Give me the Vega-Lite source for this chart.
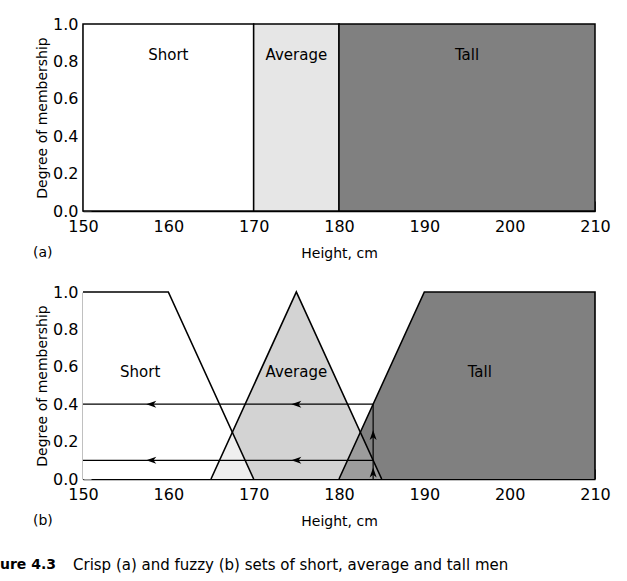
{
  "$schema": "https://vega.github.io/schema/vega-lite/v6.json",
  "background": "white",
  "padding": {"left": 0, "top": 16, "right": 20, "bottom": 5},
  "autosize": {"type": "pad"},
  "config": {
    "font": "DejaVu Sans",
    "view": {"stroke": null},
    "axisX": {
      "values": [150, 155, 160, 165, 170, 175, 180, 185, 190, 195, 200, 205, 210],
      "labelExpr": "datum.value % 10 === 0 ? datum.label : ''",
      "labelFlush": false,
      "tickSize": -10,
      "tickColor": "#444444",
      "domainColor": "black",
      "domainWidth": 1.5,
      "labelFontSize": 16,
      "labelColor": "black",
      "labelPadding": 17,
      "titleFontSize": 14,
      "titleFontWeight": "normal",
      "titleColor": "black",
      "titlePadding": 12,
      "grid": false,
      "zindex": 1
    },
    "axisY": {
      "values": [0, 0.2, 0.4, 0.6, 0.8, 1.0],
      "format": ".1f",
      "labelFlush": false,
      "tickSize": -8,
      "tickColor": "#999999",
      "domainColor": "black",
      "domainWidth": 1.5,
      "labelFontSize": 16,
      "labelColor": "black",
      "labelPadding": 13,
      "titleFontSize": 14,
      "titleFontWeight": "normal",
      "titleColor": "black",
      "titlePadding": 3,
      "grid": false,
      "zindex": 1
    }
  },
  "datasets": {
    "crisp": [
      {"set": "Short", "x0": 150, "x1": 170, "lo": 0, "hi": 1},
      {"set": "Average", "x0": 170, "x1": 180, "lo": 0, "hi": 1},
      {"set": "Tall", "x0": 180, "x1": 210, "lo": 0, "hi": 1}
    ],
    "crispLabels": [
      {"set": "Short", "x": 160, "mu": 0.834},
      {"set": "Average", "x": 175, "mu": 0.834},
      {"set": "Tall", "x": 195, "mu": 0.834}
    ],
    "fuzzy": [
      {"set": "Short", "ord": 1, "x": 150, "mu": 1},
      {"set": "Short", "ord": 2, "x": 160, "mu": 1},
      {"set": "Short", "ord": 3, "x": 170, "mu": 0},
      {"set": "Average", "ord": 1, "x": 165, "mu": 0},
      {"set": "Average", "ord": 2, "x": 175, "mu": 1},
      {"set": "Average", "ord": 3, "x": 185, "mu": 0},
      {"set": "Tall", "ord": 1, "x": 180, "mu": 0},
      {"set": "Tall", "ord": 2, "x": 190, "mu": 1},
      {"set": "Tall", "ord": 3, "x": 210, "mu": 1},
      {"set": "Tall", "ord": 4, "x": 210, "mu": 0}
    ],
    "overlap": [
      {"set": "Short∩Average", "x": 165, "mu": 0},
      {"set": "Short∩Average", "x": 167.5, "mu": 0.25},
      {"set": "Short∩Average", "x": 170, "mu": 0},
      {"set": "Average∩Tall", "x": 180, "mu": 0},
      {"set": "Average∩Tall", "x": 182.5, "mu": 0.25},
      {"set": "Average∩Tall", "x": 185, "mu": 0}
    ],
    "fuzzyLabels": [
      {"set": "Short", "x": 156.7, "mu": 0.572},
      {"set": "Average", "x": 175, "mu": 0.572},
      {"set": "Tall", "x": 196.5, "mu": 0.572}
    ],
    "guides": [
      {"x": 150, "x2": 184, "mu": 0.4, "mu2": 0.4},
      {"x": 150, "x2": 184, "mu": 0.1, "mu2": 0.1},
      {"x": 184, "x2": 184, "mu": 0, "mu2": 0.4}
    ],
    "arrows": [
      {"dir": "left", "x": 158, "mu": 0.4},
      {"dir": "left", "x": 175, "mu": 0.4},
      {"dir": "left", "x": 158, "mu": 0.1},
      {"dir": "left", "x": 175, "mu": 0.1},
      {"dir": "up", "x": 184, "mu": 0.235},
      {"dir": "up", "x": 184, "mu": 0.035}
    ]
  },
  "title": {
    "text": "ure 4.3",
    "orient": "bottom",
    "anchor": "start",
    "frame": "bounds",
    "font": "DejaVu Sans",
    "fontSize": 14,
    "fontWeight": "bold",
    "color": "black",
    "offset": -15,
    "dx": -33
  },
  "vconcat": [
    {
      "title": {
        "text": "Crisp (a) and fuzzy (b) sets of short, average and tall men",
        "orient": "bottom",
        "anchor": "start",
        "frame": "bounds",
        "font": "DejaVu Sans",
        "fontSize": 15,
        "fontWeight": "normal",
        "color": "black",
        "offset": 30,
        "dx": 40
      },
      "spacing": 24,
      "vconcat": [
        {
          "width": 512,
          "height": 187,
          "title": {"text": "(a)", "orient": "bottom", "anchor": "start", "frame": "group", "fontSize": 14, "fontWeight": "normal", "color": "black", "dx": -50, "offset": -14},
          "layer": [
            {
              "data": {"name": "crisp"},
              "mark": {"type": "rect", "stroke": "black", "strokeWidth": 1.5},
              "encoding": {
                "x": {"field": "x0", "type": "quantitative", "scale": {"domain": [150, 210], "nice": false}, "title": "Height, cm"},
                "x2": {"field": "x1"},
                "y": {"field": "lo", "type": "quantitative", "scale": {"domain": [0, 1], "nice": false}, "title": "Degree of membership"},
                "y2": {"field": "hi"},
                "fill": {"field": "set", "type": "nominal", "scale": {"domain": ["Short", "Average", "Tall"], "range": ["#ffffff", "#e6e6e6", "#808080"]}, "legend": null}
              }
            },
            {
              "data": {"name": "crispLabels"},
              "mark": {"type": "text", "fontSize": 15, "color": "black"},
              "encoding": {
                "x": {"field": "x", "type": "quantitative"},
                "y": {"field": "mu", "type": "quantitative"},
                "text": {"field": "set"}
              }
            }
          ]
        },
        {
          "width": 512,
          "height": 187,
          "title": {"text": "(b)", "orient": "bottom", "anchor": "start", "frame": "group", "fontSize": 14, "fontWeight": "normal", "color": "black", "dx": -50, "offset": -14},
          "layer": [
            {
              "data": {"name": "fuzzy"},
              "mark": {"type": "area", "opacity": 1},
              "encoding": {
                "x": {"field": "x", "type": "quantitative", "scale": {"domain": [150, 210], "nice": false}, "title": "Height, cm"},
                "y": {"field": "mu", "type": "quantitative", "stack": null, "scale": {"domain": [0, 1], "nice": false}, "title": "Degree of membership"},
                "y2": {"datum": 0},
                "color": {"field": "set", "type": "nominal", "scale": {"domain": ["Short", "Average", "Tall", "Short∩Average", "Average∩Tall"], "range": ["#ffffff", "#d3d3d3", "#808080", "#efefef", "#9c9c9c"]}, "legend": null}
              }
            },
            {
              "data": {"name": "overlap"},
              "mark": {"type": "area", "opacity": 1},
              "encoding": {
                "x": {"field": "x", "type": "quantitative"},
                "y": {"field": "mu", "type": "quantitative", "stack": null},
                "y2": {"datum": 0},
                "color": {"field": "set", "type": "nominal", "legend": null}
              }
            },
            {
              "data": {"name": "fuzzy"},
              "mark": {"type": "line", "color": "black", "strokeWidth": 1.6},
              "encoding": {
                "x": {"field": "x", "type": "quantitative"},
                "y": {"field": "mu", "type": "quantitative"},
                "detail": {"field": "set"},
                "order": {"field": "ord"}
              }
            },
            {
              "data": {"name": "guides"},
              "mark": {"type": "rule", "color": "black", "strokeWidth": 1.2},
              "encoding": {
                "x": {"field": "x", "type": "quantitative"},
                "x2": {"field": "x2"},
                "y": {"field": "mu", "type": "quantitative"},
                "y2": {"field": "mu2"}
              }
            },
            {
              "data": {"name": "arrows"},
              "transform": [{"filter": "datum.dir === 'left'"}],
              "mark": {"type": "point", "shape": "M -1 0 L 1 -0.7 L 0.45 0 L 1 0.7 Z", "filled": true, "color": "black", "opacity": 1, "size": 100, "angle": 0},
              "encoding": {
                "x": {"field": "x", "type": "quantitative"},
                "y": {"field": "mu", "type": "quantitative"}
              }
            },
            {
              "data": {"name": "arrows"},
              "transform": [{"filter": "datum.dir === 'up'"}],
              "mark": {"type": "point", "shape": "M -1 0 L 1 -0.7 L 0.45 0 L 1 0.7 Z", "filled": true, "color": "black", "opacity": 1, "size": 100, "angle": 90},
              "encoding": {
                "x": {"field": "x", "type": "quantitative"},
                "y": {"field": "mu", "type": "quantitative"}
              }
            },
            {
              "data": {"name": "fuzzyLabels"},
              "mark": {"type": "text", "fontSize": 15, "color": "black"},
              "encoding": {
                "x": {"field": "x", "type": "quantitative"},
                "y": {"field": "mu", "type": "quantitative"},
                "text": {"field": "set"}
              }
            }
          ]
        }
      ]
    }
  ]
}
